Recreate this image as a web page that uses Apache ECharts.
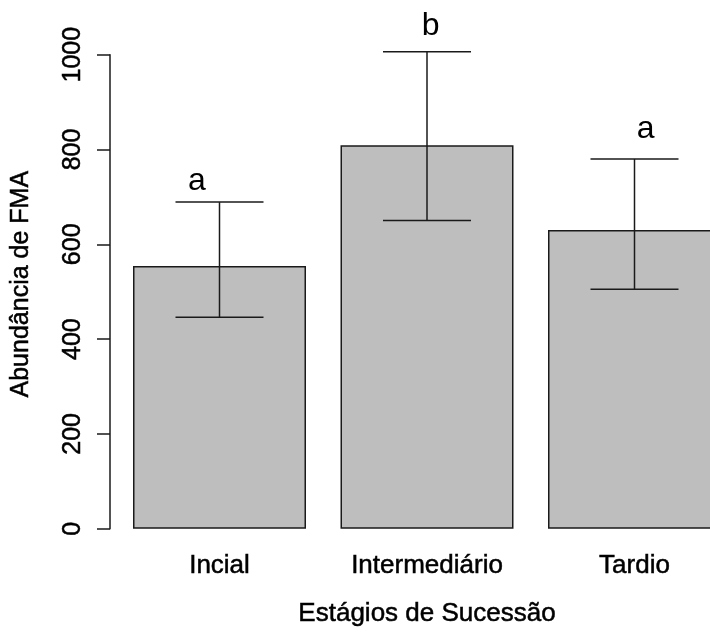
<!DOCTYPE html>
<html>
<head>
<meta charset="utf-8">
<script src="https://cdn.jsdelivr.net/npm/echarts@6/dist/echarts.min.js"></script>
<style>html,body{margin:0;padding:0;background:#fff;overflow:hidden;width:710px;height:633px}#c{width:739px;height:633px}</style>
</head>
<body>
<div id="c"></div>
<script>
// ---- data ----
const categories = ['Incial', 'Intermediário', 'Tardio'];
const means = [554, 809, 630];
const errLow = [446, 650, 505];
const errHigh = [689, 1006, 780];
const letters = ['a', 'b', 'a'];
const letterY = [733, 1060, 842];
const yTicks = [0, 200, 400, 600, 800, 1000];

// ---- layout / style constants ----
const FONT = "'Liberation Sans', Arial, sans-serif";
const INK = '#1a1a1a';
const letterShift = [-22.5, 3.7, 11.2];
const heavy = {textBorderColor: '#000', textBorderWidth: 0.5};

const chart = echarts.init(document.getElementById('c'), null, {renderer: 'canvas'});

const option = {
  animation: false,
  backgroundColor: '#ffffff',
  grid: {left: 115.75, right: 0.75, top: 54.7, bottom: 104.3, containLabel: false},
  xAxis: {
    type: 'category',
    data: categories,
    boundaryGap: true,
    axisLine: {show: false},
    axisTick: {show: false},
    axisLabel: Object.assign({fontFamily: FONT, fontSize: 26, color: '#000', margin: 24}, heavy),
    name: 'Estágios de Sucessão',
    nameLocation: 'middle',
    nameGap: 72,
    nameTextStyle: Object.assign({fontFamily: FONT, fontSize: 26, color: '#000'}, heavy)
  },
  yAxis: {
    type: 'value',
    min: yTicks[0],
    max: yTicks[yTicks.length - 1],
    interval: 200,
    offset: 5.75,
    splitLine: {show: false},
    axisLine: {show: true, lineStyle: {color: INK, width: 1.5}},
    axisTick: {show: true, length: 13, lineStyle: {color: INK, width: 1.5}},
    axisLabel: Object.assign({fontFamily: FONT, fontSize: 25, color: '#000', rotate: 90, margin: 24,
      formatter: v => String(v)}, heavy),
    name: 'Abundância de FMA',
    nameLocation: 'middle',
    nameGap: 76,
    nameTextStyle: Object.assign({fontFamily: FONT, fontSize: 25, color: '#000', padding: [0, 0, 0, 15]}, heavy)
  },
  series: [
    {
      type: 'bar',
      data: means,
      barWidth: 173,
      itemStyle: {color: '#bebebe', borderColor: INK, borderWidth: 1.5},
      silent: true
    },
    {
      type: 'custom',
      data: categories.map((c, i) => [i, errLow[i], errHigh[i]]),
      clip: false,
      z: 5,
      renderItem: function (params, api) {
        const i = api.value(0);
        const lo = api.coord([i, api.value(1)]);
        const hi = api.coord([i, api.value(2)]);
        const half = 44;
        const st = {stroke: INK, lineWidth: 1.5};
        return {
          type: 'group',
          children: [
            {type: 'line', shape: {x1: lo[0], y1: lo[1], x2: hi[0], y2: hi[1]}, style: st},
            {type: 'line', shape: {x1: lo[0] - half, y1: lo[1], x2: lo[0] + half, y2: lo[1]}, style: st},
            {type: 'line', shape: {x1: hi[0] - half, y1: hi[1], x2: hi[0] + half, y2: hi[1]}, style: st}
          ]
        };
      }
    },
    {
      type: 'custom',
      data: categories.map((c, i) => [i, letterY[i], letters[i]]),
      clip: false,
      z: 6,
      renderItem: function (params, api) {
        const i = api.value(0);
        const p = api.coord([i, api.value(1)]);
        return {
          type: 'text',
          x: p[0] + letterShift[params.dataIndex],
          y: p[1],
          style: {
            text: letters[params.dataIndex],
            fontFamily: FONT, fontSize: 32, fill: '#000',
            align: 'center', verticalAlign: 'middle'
          }
        };
      }
    }
  ]
};
chart.setOption(option);
</script>
</body>
</html>
